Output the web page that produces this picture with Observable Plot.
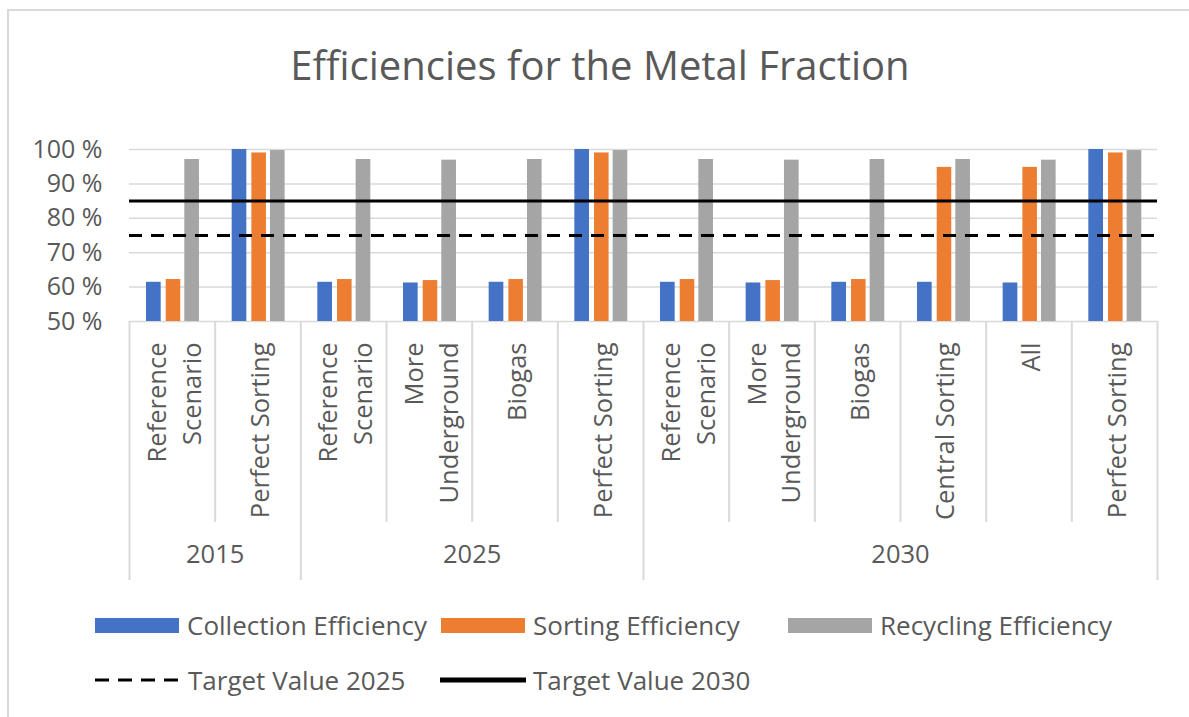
<!DOCTYPE html>
<html>
<head>
<meta charset="utf-8">
<script src="https://cdn.jsdelivr.net/npm/d3@7"></script>
<script src="https://cdn.jsdelivr.net/npm/@observablehq/plot@0.6"></script>
<style>
  html, body { margin: 0; padding: 0; background: #fff; overflow: hidden; }
  body { width: 1189px; height: 717px; position: relative; font-family: "Open Sans", sans-serif; color: #595959; }
  #frame { position: absolute; left: 7px; top: 9px; width: 1300px; height: 800px; border-left: 2px solid #d9d9d9; border-top: 2px solid #d9d9d9; box-sizing: border-box; }
  #title { position: absolute; left: 0; width: 1200px; top: 45px; text-align: center; font-size: 40px; line-height: 1; white-space: nowrap; }
  #chart { position: absolute; left: 0; top: 100px; }
  .leg { position: absolute; display: flex; align-items: center; height: 30px; font-size: 26px; white-space: nowrap; }
  .sw { display: inline-block; width: 84px; height: 15px; margin-right: 8px; }
  .ln { display: block; margin-right: 7px; }
</style>
</head>
<body>
<div id="frame"></div>
<div id="title"></div>
<div id="chart"></div>
<div id="legend"></div>
<script>
// ---- data ----
const categoryYears = ["2015","2015","2025","2025","2025","2025","2030","2030","2030","2030","2030","2030"];
const scenarioLabels = ["Reference\nScenario","Perfect Sorting","Reference\nScenario","More\nUnderground","Biogas","Perfect Sorting","Reference\nScenario","More\nUnderground","Biogas","Central Sorting","All","Perfect Sorting"];
const collectionEff = [61.4, 100, 61.4, 61.2, 61.4, 100, 61.4, 61.2, 61.4, 61.4, 61.2, 100];
const sortingEff    = [62.2, 99.0, 62.2, 61.9, 62.2, 99.0, 62.2, 61.9, 62.2, 94.8, 94.8, 99.0];
const recyclingEff  = [97.1, 99.7, 97.1, 96.9, 97.1, 99.7, 97.1, 96.9, 97.1, 97.1, 96.9, 99.7];
const seriesNames = ["Collection Efficiency","Sorting Efficiency","Recycling Efficiency"];
const seriesColors = ["#4472c4","#ed7d31","#a5a5a5"];
const targetValues = [75, 85];
const targetNames = ["Target Value 2025","Target Value 2030"];
const yTicks = [50, 60, 70, 80, 90, 100];
const titleText = "Efficiencies for the Metal Fraction";

// ---- layout ----
const W = 1189, H = 490;
const mTop = 49, mBottom = 269, mLeft = 129, mRight = 32;
const plotH = H - mTop - mBottom;
const nCat = scenarioLabels.length;
const seriesValues = [collectionEff, sortingEff, recyclingEff];
const barInsets = [[17, 54], [36.7, 34.4], [55.3, 15.7]];

const boundaries = d3.range(nCat + 1);
const isYearEdge = i => i === 0 || i === nCat || categoryYears[i] !== categoryYears[i - 1];
const yearGroups = d3.groups(categoryYears.map((y, i) => ({y, i})), d => d.y)
  .map(([year, items]) => ({year, mid: (items[0].i + items[items.length - 1].i + 1) / 2}));

const grid = "#d9d9d9";
const chart = Plot.plot({
  width: W, height: H,
  marginTop: mTop, marginBottom: mBottom, marginLeft: mLeft, marginRight: mRight,
  style: {fontFamily: "Open Sans", color: "#595959", background: "transparent", overflow: "visible"},
  x: {domain: [0, nCat], axis: null},
  y: {domain: [yTicks[0], yTicks[yTicks.length - 1]], axis: null},
  marks: [
    Plot.ruleY(yTicks, {stroke: grid, strokeWidth: 1.5}),
    ...seriesValues.map((vals, k) => Plot.rectY(vals, {
      x1: (d, i) => i, x2: (d, i) => i + 1,
      y1: () => yTicks[0], y2: d => d,
      fill: seriesColors[k],
      insetLeft: barInsets[k][0], insetRight: barInsets[k][1]
    })),
    Plot.ruleY([targetValues[1]], {stroke: "#000", strokeWidth: 3}),
    Plot.ruleY([targetValues[0]], {stroke: "#000", strokeWidth: 3, strokeDasharray: "13,9"}),
    Plot.axisY(yTicks, {tickSize: 0, tickPadding: 27, tickFormat: d => `${d} %`, fontSize: 25, fill: "#595959"}),
    Plot.ruleX(boundaries.filter(i => !isYearEdge(i)), {stroke: grid, strokeWidth: 2, insetTop: plotH, insetBottom: -201}),
    Plot.ruleX(boundaries.filter(isYearEdge), {stroke: grid, strokeWidth: 2, insetTop: plotH, insetBottom: -259}),
    Plot.text(scenarioLabels, {
      x: (d, i) => i + 0.5, frameAnchor: "bottom", dy: 21,
      text: d => d, rotate: -90, textAnchor: "end", lineAnchor: "middle", lineHeight: 1.35,
      fontSize: 25.5, fill: "#595959"
    }),
    Plot.text(yearGroups, {x: "mid", text: "year", frameAnchor: "bottom", dy: 241, fontSize: 25.5, fill: "#595959"})
  ]
});
document.getElementById("chart").appendChild(chart);
document.getElementById("title").textContent = titleText;

// ---- legend ----
const legend = document.getElementById("legend");
const swatchLefts = [95, 441, 788];
seriesNames.forEach((name, k) => {
  const item = document.createElement("div");
  item.className = "leg";
  item.style.left = swatchLefts[k] + "px";
  item.style.top = "610px";
  const sw = document.createElement("span");
  sw.className = "sw";
  sw.style.background = seriesColors[k];
  item.appendChild(sw);
  item.appendChild(document.createTextNode(name));
  legend.appendChild(item);
});
const lineLefts = [95, 440];
targetNames.forEach((name, k) => {
  const item = document.createElement("div");
  item.className = "leg";
  item.style.left = lineLefts[k] + "px";
  item.style.top = "665px";
  const svg = d3.create("svg").attr("class", "ln").attr("width", 86).attr("height", 10);
  svg.append("line").attr("x1", 0).attr("x2", 86).attr("y1", 5).attr("y2", 5)
    .attr("stroke", "#000").attr("stroke-width", k === 0 ? 3 : 5)
    .attr("stroke-linecap", k === 0 ? "butt" : "round")
    .attr("stroke-dasharray", k === 0 ? "14,9" : null);
  item.appendChild(svg.node());
  item.appendChild(document.createTextNode(name));
  legend.appendChild(item);
});
</script>
</body>
</html>
